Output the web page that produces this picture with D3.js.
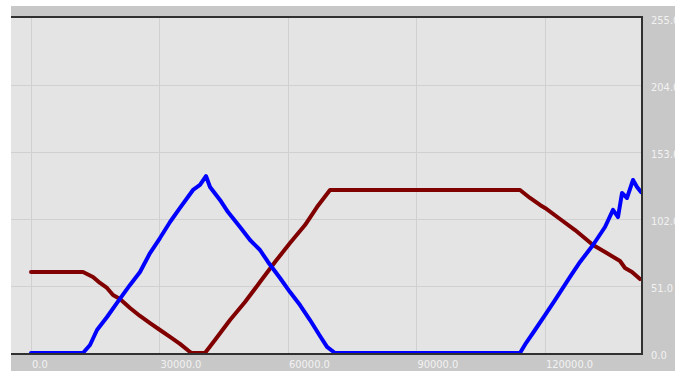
<!DOCTYPE html>
<html>
<head>
<meta charset="utf-8">
<script src="https://cdn.jsdelivr.net/npm/d3@7"></script>
<style>
	body { margin: 0; background: #ffffff; }
	.info { font-family: "DejaVu Sans Condensed", "DejaVu Sans", sans-serif; font-size: 11px; fill: #f2f2f2; }
</style>
</head>
<body>
<div id="chart"></div>
<script>

// values
var red_x= [0, 12140, 14480, 16110, 17750, 19150, 20780, 23120, 25450, 27790, 30120, 32460, 34790, 37130, 37600, 40630,
	42960, 46470, 49970, 53470, 56970, 60480, 63980, 66780, 69820, 114180, 116520, 118850, 120020, 123520, 127030,
	131230, 134030, 137530, 138700, 140330, 142200];
var red_y= [61.7, 61.7, 57.9, 53.3, 49.5, 44.1, 41.1, 34.3, 28.2, 22.8, 17.5, 12.2, 6.9, 0.8, 0, 0,
	9.9, 25.1, 38.8, 54.0, 69.3, 83.7, 97.4, 111.1, 124.1, 124.1, 118, 112.7, 110.4, 102, 93.6,
	82.2, 76.9, 70, 64.7, 61.7, 56.3];

var blue_x= [0, 12140, 13780, 15410, 17750, 20080, 23120, 25450, 27790, 30120, 32460, 34790, 37830, 39460, 40860,
	41800, 44130, 46000, 48800, 51140, 53470, 55340, 58140, 60480, 62810, 65150, 67480, 69120, 70980, 114180,
	115580, 117680, 120020, 122350, 125860, 128200, 131230, 134030, 135900, 137070, 138000, 139170, 140570, 141500, 142430];
var blue_y= [0, 0, 6.1, 17.5, 27.4, 38.1, 51.8, 61.7, 76.1, 87.5, 99.7, 110.4, 124.1, 127.9, 134.7,
	126.4, 116.5, 107.3, 95.9, 86.0, 78.4, 69.3, 57.1, 46.4, 36.5, 25.1, 12.9, 4.6, 0, 0,
	7.6, 17.5, 28.9, 40.3, 57.9, 69.3, 82.2, 95.9, 108.9, 103.5, 121.8, 118, 131.7, 126.4, 122.5];

var x_ticks= [0, 30000, 60000, 90000, 120000];
var y_ticks= [0, 51, 102, 153, 204, 255];

function draw_chart() {

	var width= 675, height= 371;
	var plot= {left: 11, top: 17, right: 642, bottom: 354};

	var svg= d3.select("#chart")
		.append("svg")
		.attr("width", width)
		.attr("height", height);

	// grey panel behind everything
	svg.append("rect")
		.attr("x", 11).attr("y", 6)
		.attr("width", width- 11).attr("height", height- 6)
		.attr("fill", "#c8c8c8");

	svg.append("rect")
		.attr("x", plot.left).attr("y", plot.top)
		.attr("width", plot.right- plot.left).attr("height", plot.bottom- plot.top)
		.attr("fill", "#e4e4e4");

	var x= d3.scaleLinear().domain([-4670, 142900]).range([plot.left, plot.right+ 1]);
	var y= d3.scaleLinear().domain([0, 255]).range([353, 18]);
	var fmt= d3.format(".1f");

	var grid= svg.append("g");

	grid.selectAll(".vg")
		.data(x_ticks)
		.enter().append("line")
			.attr("x1", function(d) { return Math.round(x(d))+ 0.5; })
			.attr("x2", function(d) { return Math.round(x(d))+ 0.5; })
			.attr("y1", plot.top).attr("y2", plot.bottom)
			.attr("stroke", "#d0d0d0");

	grid.selectAll(".hg")
		.data(y_ticks.slice(1, 5))
		.enter().append("line")
			.attr("x1", plot.left).attr("x2", plot.right)
			.attr("y1", function(d) { return Math.round(y(d))+ 0.5; })
			.attr("y2", function(d) { return Math.round(y(d))+ 0.5; })
			.attr("stroke", "#d0d0d0");

	var line= d3.line()
		.x(function(d) { return x(d[0]); })
		.y(function(d) { return y(d[1]); });

	var red= d3.zip(red_x, red_y);
	var blue= d3.zip(blue_x, blue_y);

	svg.append("path")
		.datum(red)
		.attr("d", line)
		.attr("fill", "none")
		.attr("stroke", "#800000")
		.attr("stroke-width", 4)
		.attr("stroke-linejoin", "round")
		.attr("stroke-linecap", "round");

	svg.append("path")
		.datum(blue)
		.attr("d", line)
		.attr("fill", "none")
		.attr("stroke", "#0000ff")
		.attr("stroke-width", 4)
		.attr("stroke-linejoin", "round")
		.attr("stroke-linecap", "round");

	// frame: top, right, bottom only
	svg.append("path")
		.attr("d", "M" + plot.left + "," + plot.top + "H" + plot.right + "V" + plot.bottom + "H" + plot.left)
		.attr("fill", "none")
		.attr("stroke", "#303030")
		.attr("stroke-width", 2);

	svg.selectAll(".xl")
		.data(x_ticks)
		.enter().append("text")
			.attr("class", "info")
			.attr("x", function(d) { return x(d)+ 1; })
			.attr("y", 368)
			.text(function(d) { return fmt(d); });

	svg.selectAll(".yl")
		.data(y_ticks)
		.enter().append("text")
			.attr("class", "info")
			.attr("x", 651)
			.attr("y", function(d) { return y(d)+ 2; })
			.attr("dy", "0.35em")
			.text(function(d) { return fmt(d); });
};

draw_chart();
</script>
</body>
</html>
